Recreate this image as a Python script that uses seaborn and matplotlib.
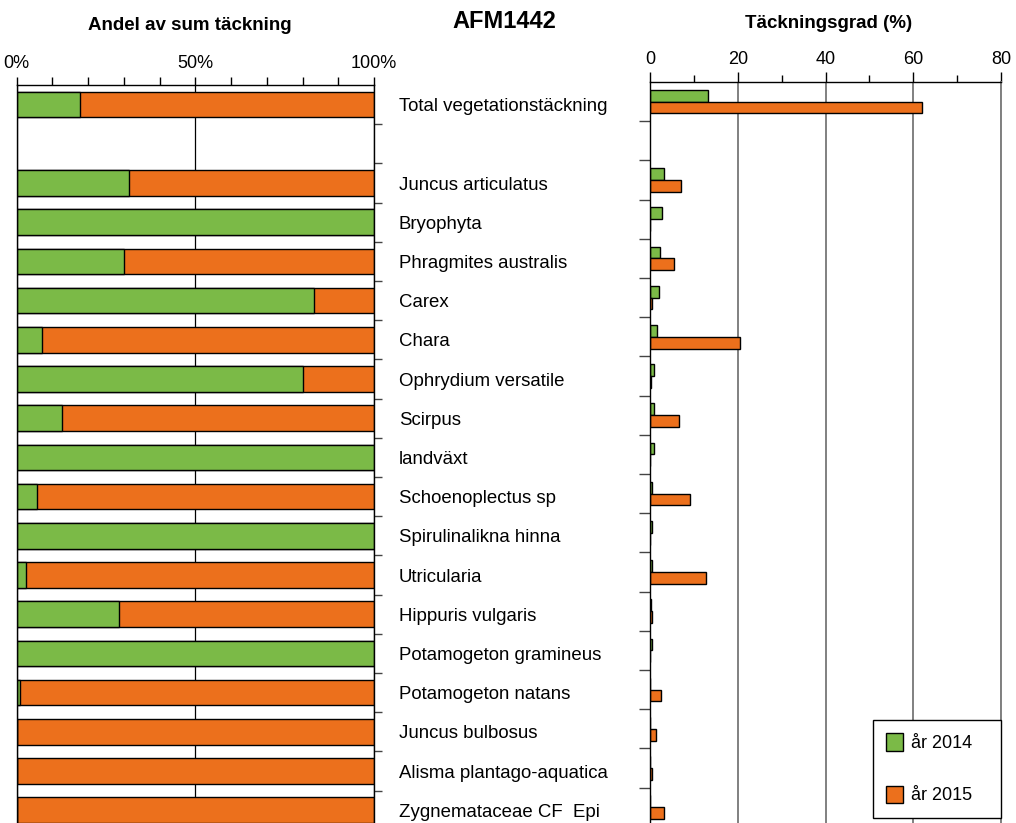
import numpy as np
import pandas as pd
import matplotlib
matplotlib.use("Agg")
import matplotlib.pyplot as plt
from matplotlib.patches import Patch
from matplotlib.ticker import MultipleLocator, FixedLocator
import seaborn as sns

# Species (top to bottom); a spacer row separates the total from the species
total_label = "Total vegetationstäckning"
species = [
    "Juncus articulatus", "Bryophyta", "Phragmites australis", "Carex",
    "Chara", "Ophrydium versatile", "Scirpus", "landväxt",
    "Schoenoplectus sp", "Spirulinalikna hinna", "Utricularia",
    "Hippuris vulgaris", "Potamogeton gramineus", "Potamogeton natans",
    "Juncus bulbosus", "Alisma plantago-aquatica", "Zygnemataceae CF  Epi",
]
spacer = " "

# Coverage (%) per year, total first, then the species in the order above
cover_2014 = [13.3, 3.2, 2.8, 2.35, 2.0, 1.6, 1.0, 0.95, 1.0, 0.55, 0.4,
              0.35, 0.2, 0.4, 0.02, 0.0, 0.0, 0.0]
cover_2015 = [61.9, 7.0, 0.0, 5.5, 0.4, 20.6, 0.25, 6.5, 0.0, 9.2, 0.0,
              12.8, 0.5, 0.0, 2.4, 1.45, 0.4, 3.3]

years = ["år 2014", "år 2015"]
pct_ticks = ["0%", "50%", "100%"]

GREEN = "#7BBA47"
ORANGE = "#EC701C"

names = [total_label] + species
order = [total_label, spacer] + species

wide = pd.DataFrame({"art": names, years[0]: cover_2014, years[1]: cover_2015})
wide["sum"] = wide[years[0]] + wide[years[1]]
wide["andel_2014"] = 100 * wide[years[0]] / wide["sum"]
wide["andel_total"] = 100 * wide["sum"] / wide["sum"]
long = wide.melt(id_vars="art", value_vars=years, var_name="år", value_name="täckning")

sns.set_style("white")
plt.rcParams["font.family"] = ["Liberation Sans", "DejaVu Sans"]
plt.rcParams["font.size"] = 13
for key in ("text.color", "xtick.labelcolor", "ytick.labelcolor", "axes.labelcolor"):
    plt.rcParams[key] = "black"

W, H = 1016, 823
fig = plt.figure(figsize=(W / 100, H / 100), dpi=100)

n = len(order)
row_px = 39.2
# Left panel: share of summed coverage
axL = fig.add_axes([16.7 / W, 1 - (85 + n * row_px) / H, 357.3 / W, n * row_px / H])
# Right panel: coverage per year
axR = fig.add_axes([650 / W, 1 - (82 + n * row_px) / H, 351 / W, n * row_px / H])

edge_kw = dict(edgecolor="black", linewidth=1.0)

sns.barplot(data=wide, y="art", x="andel_total", order=order, color=ORANGE,
            width=0.65, orient="h", ax=axL, saturation=1, **edge_kw)
sns.barplot(data=wide, y="art", x="andel_2014", order=order, color=GREEN,
            width=0.65, orient="h", ax=axL, saturation=1, **edge_kw)

sns.barplot(data=long, y="art", x="täckning", hue="år", order=order,
            hue_order=years, palette=[GREEN, ORANGE], width=0.6, orient="h",
            ax=axR, saturation=1, legend=False, **edge_kw)

for ax in (axL, axR):
    ax.set_ylim(n - 0.5, -0.5)
    ax.set_xlabel("")
    ax.set_ylabel("")
    ax.xaxis.tick_top()
    ax.set_axisbelow(True)
    for s in ax.spines.values():
        s.set_visible(True)
        s.set_color("black")
        s.set_linewidth(1.0)
    ax.spines["bottom"].set_visible(False)

# Left panel axes
axL.set_xlim(0, 100)
axL.xaxis.set_major_locator(FixedLocator([0, 50, 100]))
axL.set_xticklabels(pct_ticks)
axL.xaxis.set_minor_locator(MultipleLocator(10))
axL.tick_params(axis="x", which="both", direction="out", length=6, width=1,
                color="black", pad=3, labelsize=13, top=True, bottom=False)
axL.grid(axis="x", which="major", color="black", linewidth=0.9)
axL.yaxis.tick_right()
axL.set_yticks(range(n))
axL.set_yticklabels(order)
axL.yaxis.set_minor_locator(FixedLocator(np.arange(0.5, n - 1, 1.0)))
axL.tick_params(axis="y", which="major", length=0, pad=18, labelsize=13.4)
axL.tick_params(axis="y", which="minor", direction="out", length=6, width=1,
                color="#444444", right=True, left=False)

# Right panel axes
axR.set_xlim(0, 80)
axR.xaxis.set_major_locator(MultipleLocator(20))
axR.xaxis.set_minor_locator(MultipleLocator(10))
axR.tick_params(axis="x", which="major", direction="out", length=7, width=1,
                color="black", pad=3, labelsize=13, top=True, bottom=False)
axR.tick_params(axis="x", which="minor", direction="out", length=5, width=1,
                color="black", top=True, bottom=False)
axR.grid(axis="x", which="major", color="#808080", linewidth=1.4)
axR.spines["right"].set_color("#808080")
axR.spines["right"].set_linewidth(1.4)
axR.set_yticks([])
axR.yaxis.set_minor_locator(FixedLocator(np.arange(0.5, n - 1, 1.0)))
axR.tick_params(axis="y", which="minor", direction="out", length=8, width=1,
                color="#444444", left=True, right=False)

# Titles
fig.text(189.5 / W, 1 - 25 / H, "Andel av sum täckning", ha="center", va="center",
         fontsize=13.5, fontweight="bold")
fig.text(828.5 / W, 1 - 24 / H, "Täckningsgrad (%)", ha="center", va="center",
         fontsize=13.5, fontweight="bold")
fig.text(504 / W, 1 - 22 / H, "AFM1442", ha="center", va="center",
         fontsize=17, fontweight="bold")

# Legend box in the lower right corner of the coverage panel
handles = [Patch(facecolor=GREEN, edgecolor="black", linewidth=1.0, label=years[0]),
           Patch(facecolor=ORANGE, edgecolor="black", linewidth=1.0, label=years[1])]
leg = axR.legend(handles=handles, loc="lower left", mode="expand",
                 bbox_to_anchor=(872.7 / W, 1 - 818 / H, 128.3 / W, 97.3 / H),
                 bbox_transform=fig.transFigure,
                 frameon=True, fancybox=False, framealpha=1, edgecolor="black",
                 fontsize=13, handlelength=0.95, handleheight=1.1, handletextpad=0.4,
                 labelspacing=1.85, borderpad=0.75, borderaxespad=0)
leg.get_frame().set_linewidth(1.0)

fig.savefig("out.png", dpi=100)
